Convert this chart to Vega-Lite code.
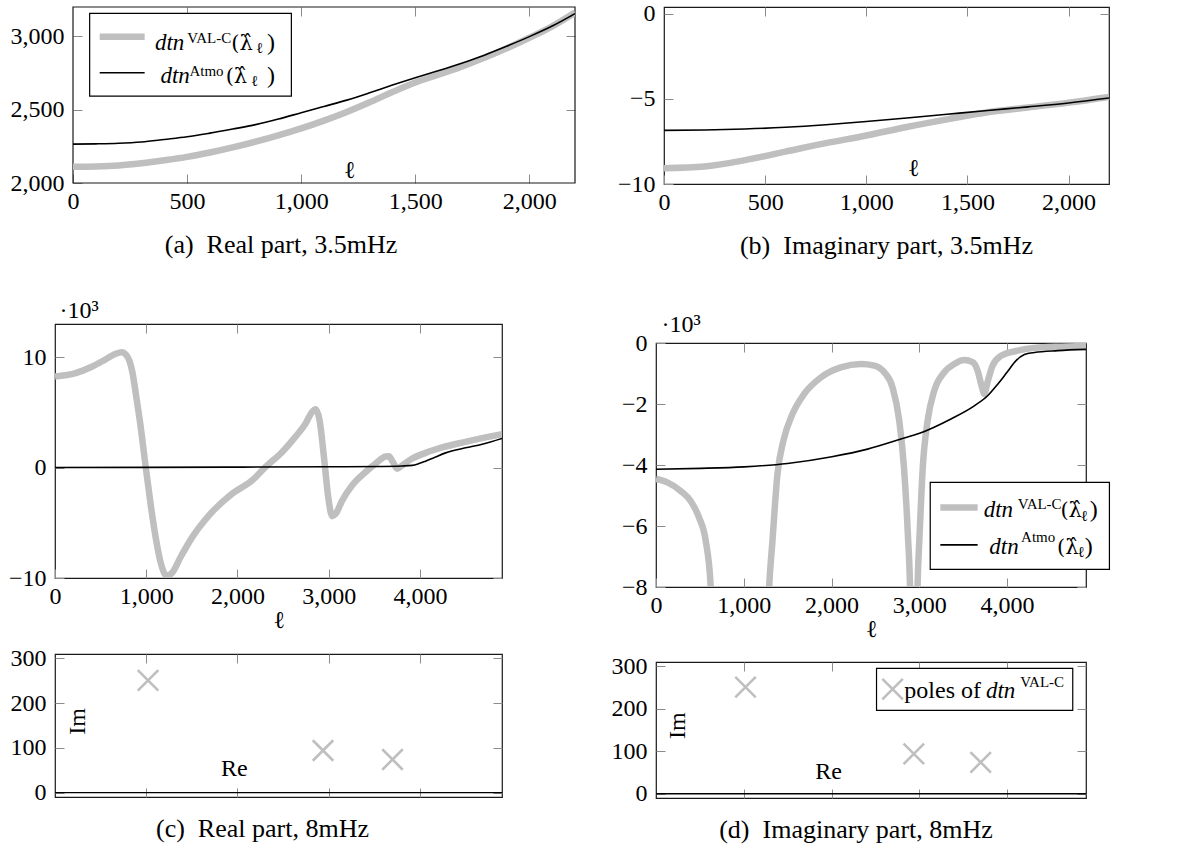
{
  "$schema": "https://vega.github.io/schema/vega-lite/v6.json",
  "background": "white",
  "padding": {"left": 7, "top": 1, "right": 0, "bottom": 0},
  "config": {
    "font": "Liberation Serif",
    "view": {"stroke": "#1a1a1a", "strokeWidth": 1.2},
    "axis": {"domain": false, "grid": false, "tickSize": -9, "tickColor": "#8c8c8c", "tickWidth": 1, "labelFont": "Liberation Serif", "labelFontSize": 24, "labelColor": "#000", "labelFlush": false, "labelOverlap": false, "titleFont": "Liberation Serif", "titleFontSize": 24, "titleFontWeight": "normal", "titleColor": "#000"},
    "axisX": {"labelPadding": 15},
    "axisY": {"labelPadding": 18},
    "title": {"font": "Liberation Serif", "fontSize": 26, "fontWeight": "normal", "color": "#000"},
    "text": {"font": "Liberation Serif", "color": "#000"}
  },
  "datasets": {
    "a": [
      {"l":0,"s":"VAL-C","v":2110},{"l":100,"s":"VAL-C","v":2113},{"l":200,"s":"VAL-C","v":2120},{"l":300,"s":"VAL-C","v":2135},{"l":400,"s":"VAL-C","v":2155},{"l":500,"s":"VAL-C","v":2178},{"l":600,"s":"VAL-C","v":2208},{"l":700,"s":"VAL-C","v":2243},{"l":800,"s":"VAL-C","v":2282},{"l":900,"s":"VAL-C","v":2325},{"l":1000,"s":"VAL-C","v":2372},{"l":1100,"s":"VAL-C","v":2425},{"l":1200,"s":"VAL-C","v":2484},{"l":1300,"s":"VAL-C","v":2550},{"l":1400,"s":"VAL-C","v":2620},{"l":1500,"s":"VAL-C","v":2685},{"l":1600,"s":"VAL-C","v":2738},{"l":1700,"s":"VAL-C","v":2792},{"l":1800,"s":"VAL-C","v":2852},{"l":1900,"s":"VAL-C","v":2918},{"l":2000,"s":"VAL-C","v":2990},{"l":2100,"s":"VAL-C","v":3068},{"l":2200,"s":"VAL-C","v":3162},
      {"l":0,"s":"Atmo","v":2265},{"l":100,"s":"Atmo","v":2267},{"l":200,"s":"Atmo","v":2271},{"l":300,"s":"Atmo","v":2280},{"l":400,"s":"Atmo","v":2297},{"l":500,"s":"Atmo","v":2315},{"l":600,"s":"Atmo","v":2340},{"l":700,"s":"Atmo","v":2368},{"l":800,"s":"Atmo","v":2398},{"l":900,"s":"Atmo","v":2436},{"l":1000,"s":"Atmo","v":2479},{"l":1100,"s":"Atmo","v":2522},{"l":1200,"s":"Atmo","v":2565},{"l":1300,"s":"Atmo","v":2615},{"l":1400,"s":"Atmo","v":2668},{"l":1500,"s":"Atmo","v":2718},{"l":1600,"s":"Atmo","v":2765},{"l":1700,"s":"Atmo","v":2815},{"l":1800,"s":"Atmo","v":2870},{"l":1900,"s":"Atmo","v":2932},{"l":2000,"s":"Atmo","v":2998},{"l":2100,"s":"Atmo","v":3070},{"l":2200,"s":"Atmo","v":3155}
    ],
    "b": [
      {"l":0,"s":"VAL-C","v":-9.07},{"l":200,"s":"VAL-C","v":-8.97},{"l":400,"s":"VAL-C","v":-8.6},{"l":600,"s":"VAL-C","v":-8.1},{"l":800,"s":"VAL-C","v":-7.6},{"l":1000,"s":"VAL-C","v":-7.15},{"l":1200,"s":"VAL-C","v":-6.65},{"l":1400,"s":"VAL-C","v":-6.2},{"l":1600,"s":"VAL-C","v":-5.78},{"l":1800,"s":"VAL-C","v":-5.5},{"l":2000,"s":"VAL-C","v":-5.22},{"l":2200,"s":"VAL-C","v":-4.88},
      {"l":0,"s":"Atmo","v":-6.85},{"l":200,"s":"Atmo","v":-6.83},{"l":400,"s":"Atmo","v":-6.77},{"l":600,"s":"Atmo","v":-6.67},{"l":800,"s":"Atmo","v":-6.52},{"l":1000,"s":"Atmo","v":-6.33},{"l":1200,"s":"Atmo","v":-6.12},{"l":1400,"s":"Atmo","v":-5.9},{"l":1600,"s":"Atmo","v":-5.68},{"l":1800,"s":"Atmo","v":-5.47},{"l":2000,"s":"Atmo","v":-5.24},{"l":2200,"s":"Atmo","v":-4.95}
    ],
    "c": [
      {"l":0,"s":"VAL-C","v":8.24},{"l":226,"s":"VAL-C","v":8.55},{"l":409,"s":"VAL-C","v":9.15},{"l":555,"s":"VAL-C","v":9.8},{"l":665,"s":"VAL-C","v":10.3},{"l":731,"s":"VAL-C","v":10.45},{"l":793,"s":"VAL-C","v":10.06},{"l":847,"s":"VAL-C","v":8.7},{"l":891,"s":"VAL-C","v":6.4},{"l":939,"s":"VAL-C","v":3.7},{"l":994,"s":"VAL-C","v":0.06},{"l":1048,"s":"VAL-C","v":-3.3},{"l":1103,"s":"VAL-C","v":-6.3},{"l":1158,"s":"VAL-C","v":-8.6},{"l":1224,"s":"VAL-C","v":-9.8},{"l":1286,"s":"VAL-C","v":-9.5},{"l":1377,"s":"VAL-C","v":-8.1},{"l":1505,"s":"VAL-C","v":-6.3},{"l":1688,"s":"VAL-C","v":-4.33},{"l":1943,"s":"VAL-C","v":-2.36},{"l":2163,"s":"VAL-C","v":-1.15},{"l":2309,"s":"VAL-C","v":0.06},{"l":2491,"s":"VAL-C","v":1.42},{"l":2637,"s":"VAL-C","v":2.8},{"l":2747,"s":"VAL-C","v":4.0},{"l":2820,"s":"VAL-C","v":5.06},{"l":2857,"s":"VAL-C","v":5.27},{"l":2900,"s":"VAL-C","v":4.3},{"l":2948,"s":"VAL-C","v":0.97},{"l":2995,"s":"VAL-C","v":-2.67},{"l":3039,"s":"VAL-C","v":-4.4},{"l":3076,"s":"VAL-C","v":-4.2},{"l":3149,"s":"VAL-C","v":-2.97},{"l":3258,"s":"VAL-C","v":-1.6},{"l":3405,"s":"VAL-C","v":-0.4},{"l":3514,"s":"VAL-C","v":0.36},{"l":3624,"s":"VAL-C","v":1.0},{"l":3660,"s":"VAL-C","v":1.03},{"l":3704,"s":"VAL-C","v":0.5},{"l":3752,"s":"VAL-C","v":-0.1},{"l":3806,"s":"VAL-C","v":0.2},{"l":3916,"s":"VAL-C","v":0.82},{"l":4062,"s":"VAL-C","v":1.33},{"l":4245,"s":"VAL-C","v":1.82},{"l":4500,"s":"VAL-C","v":2.33},{"l":4720,"s":"VAL-C","v":2.73},{"l":4900,"s":"VAL-C","v":3.03},
      {"l":0,"s":"Atmo","v":0.0},{"l":1000,"s":"Atmo","v":0.02},{"l":2000,"s":"Atmo","v":0.04},{"l":3000,"s":"Atmo","v":0.07},{"l":3600,"s":"Atmo","v":0.1},{"l":3800,"s":"Atmo","v":0.14},{"l":3916,"s":"Atmo","v":0.2},{"l":3989,"s":"Atmo","v":0.36},{"l":4062,"s":"Atmo","v":0.58},{"l":4135,"s":"Atmo","v":0.82},{"l":4281,"s":"Atmo","v":1.33},{"l":4500,"s":"Atmo","v":1.79},{"l":4683,"s":"Atmo","v":2.12},{"l":4900,"s":"Atmo","v":2.64}
    ],
    "d": [
      {"l":0,"s":"VAL-C","g":1,"v":-4.46},{"l":129,"s":"VAL-C","g":1,"v":-4.57},{"l":281,"s":"VAL-C","g":1,"v":-4.85},{"l":395,"s":"VAL-C","g":1,"v":-5.18},{"l":490,"s":"VAL-C","g":1,"v":-5.72},{"l":567,"s":"VAL-C","g":1,"v":-6.49},{"l":624,"s":"VAL-C","g":1,"v":-8.02},{"l":645,"s":"VAL-C","g":1,"v":-9.5},
      {"l":1268,"s":"VAL-C","g":2,"v":-9.5},{"l":1289,"s":"VAL-C","g":2,"v":-8.02},{"l":1327,"s":"VAL-C","g":2,"v":-6.49},{"l":1384,"s":"VAL-C","g":2,"v":-4.3},{"l":1452,"s":"VAL-C","g":2,"v":-3.2},{"l":1555,"s":"VAL-C","g":2,"v":-2.33},{"l":1688,"s":"VAL-C","g":2,"v":-1.67},{"l":1878,"s":"VAL-C","g":2,"v":-1.13},{"l":2106,"s":"VAL-C","g":2,"v":-0.8},{"l":2335,"s":"VAL-C","g":2,"v":-0.69},{"l":2487,"s":"VAL-C","g":2,"v":-0.74},{"l":2601,"s":"VAL-C","g":2,"v":-0.96},{"l":2696,"s":"VAL-C","g":2,"v":-1.46},{"l":2772,"s":"VAL-C","g":2,"v":-2.55},{"l":2826,"s":"VAL-C","g":2,"v":-4.08},{"l":2870,"s":"VAL-C","g":2,"v":-6.27},{"l":2895,"s":"VAL-C","g":2,"v":-8.02},{"l":2905,"s":"VAL-C","g":2,"v":-9.5},
      {"l":2970,"s":"VAL-C","g":3,"v":-9.5},{"l":2980,"s":"VAL-C","g":3,"v":-8.02},{"l":3004,"s":"VAL-C","g":3,"v":-6.27},{"l":3040,"s":"VAL-C","g":3,"v":-4.08},{"l":3095,"s":"VAL-C","g":3,"v":-2.55},{"l":3171,"s":"VAL-C","g":3,"v":-1.56},{"l":3285,"s":"VAL-C","g":3,"v":-0.96},{"l":3399,"s":"VAL-C","g":3,"v":-0.69},{"l":3513,"s":"VAL-C","g":3,"v":-0.56},{"l":3608,"s":"VAL-C","g":3,"v":-0.63},{"l":3665,"s":"VAL-C","g":3,"v":-0.91},{"l":3715,"s":"VAL-C","g":3,"v":-1.46},{"l":3741,"s":"VAL-C","g":3,"v":-1.67},{"l":3772,"s":"VAL-C","g":3,"v":-1.35},{"l":3836,"s":"VAL-C","g":3,"v":-0.74},{"l":3932,"s":"VAL-C","g":3,"v":-0.42},{"l":4122,"s":"VAL-C","g":3,"v":-0.25},{"l":4312,"s":"VAL-C","g":3,"v":-0.16},{"l":4616,"s":"VAL-C","g":3,"v":-0.12},{"l":4900,"s":"VAL-C","g":3,"v":-0.1},
      {"l":0,"s":"Atmo","g":0,"v":-4.14},{"l":510,"s":"Atmo","g":0,"v":-4.11},{"l":1004,"s":"Atmo","g":0,"v":-4.06},{"l":1498,"s":"Atmo","g":0,"v":-3.95},{"l":2004,"s":"Atmo","g":0,"v":-3.73},{"l":2411,"s":"Atmo","g":0,"v":-3.48},{"l":2791,"s":"Atmo","g":0,"v":-3.15},{"l":3004,"s":"Atmo","g":0,"v":-2.96},{"l":3361,"s":"Atmo","g":0,"v":-2.49},{"l":3627,"s":"Atmo","g":0,"v":-2.06},{"l":3779,"s":"Atmo","g":0,"v":-1.73},{"l":3894,"s":"Atmo","g":0,"v":-1.35},{"l":4000,"s":"Atmo","g":0,"v":-0.96},{"l":4103,"s":"Atmo","g":0,"v":-0.58},{"l":4198,"s":"Atmo","g":0,"v":-0.38},{"l":4312,"s":"Atmo","g":0,"v":-0.31},{"l":4578,"s":"Atmo","g":0,"v":-0.25},{"l":4900,"s":"Atmo","g":0,"v":-0.21}
    ],
    "poles": [{"re":1020,"im":251},{"re":2938,"im":94},{"re":3700,"im":74}]
  },
  "columns": 1,
  "spacing": 18,
  "concat": [
    {
      "spacing": 40,
      "hconcat": [
        {
          "width": 520, "height": 176,
          "view": {"stroke": null},
          "title": {"text": "(a)\u00a0 Real part, 3.5mHz", "orient": "bottom", "offset": 19, "dx": -34},
          "layer": [
            {"data": {"values": [{"x": 0, "x2": 2200, "y": 2000, "y2": 3200}]},
             "mark": {"type": "rect", "fill": "transparent", "stroke": "#1a1a1a", "strokeWidth": 1.2},
             "encoding": {"x": {"field": "x", "type": "quantitative", "axis": null}, "x2": {"field": "x2"}, "y": {"field": "y", "type": "quantitative", "axis": null}, "y2": {"field": "y2"}}},
            {"data": {"name": "a"}, "transform": [{"filter": "datum.s === 'VAL-C'"}],
             "mark": {"type": "line", "stroke": "#bfbfbf", "strokeWidth": 6.5, "interpolate": "monotone", "clip": true},
             "encoding": {
               "x": {"field": "l", "type": "quantitative", "scale": {"domain": [-78.9, 2200], "nice": false, "zero": false}, "axis": {"orient": "bottom", "values": [0,500,1000,1500,2000], "format": ",d", "title": "ℓ", "titleX": 294, "titleY": -6, "titleBaseline": "alphabetic", "titleAlign": "center"}},
               "y": {"field": "v", "type": "quantitative", "scale": {"domain": [2000, 3200], "nice": false, "zero": false}, "axis": {"orient": "left", "offset": -18, "values": [2000,2500,3000], "format": ",d", "title": null}}
             }},
            {"data": {"name": "a"}, "transform": [{"filter": "datum.s === 'Atmo'"}],
             "mark": {"type": "line", "stroke": "#000", "strokeWidth": 1.6, "interpolate": "monotone", "clip": true},
             "encoding": {
               "x": {"field": "l", "type": "quantitative", "axis": {"orient": "top", "values": [500,1000,1500,2000], "labels": false, "title": null}},
               "y": {"field": "v", "type": "quantitative", "axis": {"orient": "right", "values": [2500,3000], "labels": false, "title": null}}
             }},
            {"data": {"values": [{"x": 73, "x2": 957, "y": 3157, "y2": 2593}]},
             "mark": {"type": "rect", "fill": "#fff", "stroke": "#000", "strokeWidth": 1.2},
             "encoding": {"x": {"field": "x", "type": "quantitative", "axis": null}, "x2": {"field": "x2"}, "y": {"field": "y", "type": "quantitative", "axis": null}, "y2": {"field": "y2"}}},
            {"data": {"values": [{"x": 117, "x2": 314, "y": 2997}]},
             "mark": {"type": "rule", "stroke": "#bfbfbf", "strokeWidth": 6.5},
             "encoding": {"x": {"field": "x", "type": "quantitative", "axis": null}, "x2": {"field": "x2"}, "y": {"field": "y", "type": "quantitative", "axis": null}}},
            {"data": {"values": [{"x": 117, "x2": 314, "y": 2752}]},
             "mark": {"type": "rule", "stroke": "#000", "strokeWidth": 1.6},
             "encoding": {"x": {"field": "x", "type": "quantitative", "axis": null}, "x2": {"field": "x2"}, "y": {"field": "y", "type": "quantitative", "axis": null}}},
            {"data": {"values": [{"x": 359, "y": 2907, "t": "dtn"}, {"x": 383, "y": 2680, "t": "dtn"}]},
             "mark": {"type": "text", "align": "left", "baseline": "alphabetic", "fontSize": 23, "fontStyle": "italic"},
             "encoding": {"x": {"field": "x", "type": "quantitative", "axis": null}, "y": {"field": "y", "type": "quantitative", "axis": null}, "text": {"field": "t"}}},
            {"data": {"values": [{"x": 501, "y": 2957, "t": "VAL-C"}, {"x": 510, "y": 2730, "t": "Atmo"}]},
             "mark": {"type": "text", "align": "left", "baseline": "alphabetic", "fontSize": 15},
             "encoding": {"x": {"field": "x", "type": "quantitative", "axis": null}, "y": {"field": "y", "type": "quantitative", "axis": null}, "text": {"field": "t"}}},
            {"data": {"values": [{"x": 694, "y": 2907, "t": "(\u03bb\u0302"}, {"x": 669, "y": 2680, "t": "(\u03bb\u0302"}]},
             "mark": {"type": "text", "align": "left", "baseline": "alphabetic", "fontSize": 21, "font": "DejaVu Serif"},
             "encoding": {"x": {"field": "x", "type": "quantitative", "axis": null}, "y": {"field": "y", "type": "quantitative", "axis": null}, "text": {"field": "t"}}},
            {"data": {"values": [{"x": 803, "y": 2884, "t": "ℓ"}, {"x": 781, "y": 2661, "t": "ℓ"}]},
             "mark": {"type": "text", "align": "left", "baseline": "alphabetic", "fontSize": 15},
             "encoding": {"x": {"field": "x", "type": "quantitative", "axis": null}, "y": {"field": "y", "type": "quantitative", "axis": null}, "text": {"field": "t"}}},
            {"data": {"values": [{"x": 885, "y": 2907, "t": ")"}, {"x": 885, "y": 2680, "t": ")"}]},
             "mark": {"type": "text", "align": "right", "baseline": "alphabetic", "fontSize": 24},
             "encoding": {"x": {"field": "x", "type": "quantitative", "axis": null}, "y": {"field": "y", "type": "quantitative", "axis": null}, "text": {"field": "t"}}}
          ],
          "resolve": {"axis": {"x": "independent", "y": "independent"}}
        },
        {
          "width": 445, "height": 177,
          "title": {"text": "(b)\u00a0 Imaginary part, 3.5mHz", "orient": "bottom", "offset": 19},
          "layer": [
            {"data": {"name": "b"}, "transform": [{"filter": "datum.s === 'VAL-C'"}],
             "mark": {"type": "line", "stroke": "#bfbfbf", "strokeWidth": 6.5, "interpolate": "monotone", "clip": true},
             "encoding": {
               "x": {"field": "l", "type": "quantitative", "scale": {"domain": [0, 2200], "nice": false, "zero": false}, "axis": {"orient": "bottom", "values": [0,500,1000,1500,2000], "format": ",d", "title": "ℓ", "titleX": 249, "titleY": -9, "titleBaseline": "alphabetic", "titleAlign": "center"}},
               "y": {"field": "v", "type": "quantitative", "scale": {"domain": [-10, 0.4], "nice": false, "zero": false}, "axis": {"orient": "left", "values": [-10,-5,0], "title": null}}
             }},
            {"data": {"name": "b"}, "transform": [{"filter": "datum.s === 'Atmo'"}],
             "mark": {"type": "line", "stroke": "#000", "strokeWidth": 1.6, "interpolate": "monotone", "clip": true},
             "encoding": {
               "x": {"field": "l", "type": "quantitative", "axis": {"orient": "top", "values": [500,1000,1500,2000], "labels": false, "title": null}},
               "y": {"field": "v", "type": "quantitative", "axis": {"orient": "right", "values": [-5,0], "labels": false, "title": null}}
             }}
          ],
          "resolve": {"axis": {"x": "independent", "y": "independent"}}
        }
      ]
    },
    {
      "spacing": 106,
      "hconcat": [
        {
          "spacing": 12,
          "vconcat": [
            {
              "width": 10, "height": 1,
              "data": {"values": [{"k": 1}]},
              "mark": {"type": "point", "opacity": 0},
              "encoding": {},
              "view": {"stroke": null}
            },
            {
              "width": 447, "height": 254,
              "layer": [
                {"data": {"name": "c"}, "transform": [{"filter": "datum.s === 'VAL-C'"}],
                 "mark": {"type": "line", "stroke": "#bfbfbf", "strokeWidth": 6.5, "interpolate": "monotone", "clip": true},
                 "encoding": {
                   "x": {"field": "l", "type": "quantitative", "scale": {"domain": [0, 4900], "nice": false, "zero": false}, "axis": {"orient": "bottom", "values": [0,1000,2000,3000,4000], "format": ",d", "title": "ℓ", "titlePadding": 0}},
                   "y": {"field": "v", "type": "quantitative", "scale": {"domain": [-10, 13], "nice": false, "zero": false}, "axis": {"orient": "left", "values": [-10,0,10], "title": "·10³", "titleAngle": 0, "titleAlign": "left", "titleBaseline": "alphabetic", "titleX": 4, "titleY": -7}}
                 }},
                {"data": {"name": "c"}, "transform": [{"filter": "datum.s === 'Atmo'"}],
                 "mark": {"type": "line", "stroke": "#000", "strokeWidth": 1.6, "interpolate": "monotone", "clip": true},
                 "encoding": {
                   "x": {"field": "l", "type": "quantitative", "axis": {"orient": "top", "values": [1000,2000,3000,4000], "labels": false, "title": null}},
                   "y": {"field": "v", "type": "quantitative", "axis": {"orient": "right", "values": [-10,0,10], "labels": false, "title": null}}
                 }}
              ],
              "resolve": {"axis": {"x": "independent", "y": "independent"}}
            },
            {
              "width": 447, "height": 143,
              "title": {"text": "(c)\u00a0 Real part, 8mHz", "orient": "bottom", "offset": 11, "dx": -16},
              "layer": [
                {"data": {"values": [{"im": 0}]},
                 "mark": {"type": "rule", "stroke": "#000", "strokeWidth": 1.3},
                 "encoding": {"y": {"field": "im", "type": "quantitative", "scale": {"domain": [-10, 310], "nice": false, "zero": false}, "axis": {"orient": "right", "values": [0,100,200,300], "labels": false, "title": null}}}},
                {"data": {"name": "poles"},
                 "mark": {"type": "point", "shape": "M-1,-1L1,1M-1,1L1,-1", "size": 420, "filled": false, "stroke": "#bfbfbf", "strokeWidth": 2.6, "opacity": 1},
                 "encoding": {
                   "x": {"field": "re", "type": "quantitative", "scale": {"domain": [0, 4900], "nice": false, "zero": false}, "axis": {"orient": "bottom", "values": [1000,2000,3000,4000], "labels": false, "title": null}},
                   "y": {"field": "im", "type": "quantitative", "axis": {"orient": "left", "values": [0,100,200,300], "title": null}}
                 }},
                {"data": {"values": [{"x": 1967, "y": 36, "t": "Re"}]},
                 "mark": {"type": "text", "align": "center", "baseline": "alphabetic", "fontSize": 24},
                 "encoding": {"x": {"field": "x", "type": "quantitative", "axis": {"orient": "top", "values": [1000,2000,3000,4000], "labels": false, "title": null}}, "y": {"field": "y", "type": "quantitative", "axis": null}, "text": {"field": "t"}}},
                {"data": {"values": [{"x": 255, "y": 159, "t": "Im"}]},
                 "mark": {"type": "text", "align": "center", "baseline": "middle", "fontSize": 24, "angle": 270},
                 "encoding": {"x": {"field": "x", "type": "quantitative", "axis": null}, "y": {"field": "y", "type": "quantitative", "axis": null}, "text": {"field": "t"}}}
              ],
              "resolve": {"axis": {"x": "independent", "y": "independent"}}
            }
          ]
        },
        {
          "spacing": 11,
          "vconcat": [
            {
              "width": 10, "height": 19,
              "data": {"values": [{"k": 1}]},
              "mark": {"type": "point", "opacity": 0},
              "encoding": {},
              "view": {"stroke": null}
            },
            {
              "width": 430, "height": 244,
              "layer": [
                {"data": {"name": "d"}, "transform": [{"filter": "datum.s === 'VAL-C'"}],
                 "mark": {"type": "line", "stroke": "#bfbfbf", "strokeWidth": 6.5, "interpolate": "monotone", "clip": true},
                 "encoding": {
                   "x": {"field": "l", "type": "quantitative", "scale": {"domain": [0, 4900], "nice": false, "zero": false}, "axis": {"orient": "bottom", "values": [0,1000,2000,3000,4000], "format": ",d", "title": "ℓ", "titlePadding": 0}},
                   "y": {"field": "v", "type": "quantitative", "scale": {"domain": [-8, 0], "nice": false, "zero": false}, "axis": {"orient": "left", "values": [-8,-6,-4,-2,0], "title": "·10³", "titleAngle": 0, "titleAlign": "left", "titleBaseline": "alphabetic", "titleX": 5, "titleY": -12}},
                   "detail": {"field": "g"}
                 }},
                {"data": {"name": "d"}, "transform": [{"filter": "datum.s === 'Atmo'"}],
                 "mark": {"type": "line", "stroke": "#000", "strokeWidth": 1.6, "interpolate": "monotone", "clip": true},
                 "encoding": {
                   "x": {"field": "l", "type": "quantitative", "axis": {"orient": "top", "values": [1000,2000,3000,4000], "labels": false, "title": null}},
                   "y": {"field": "v", "type": "quantitative", "axis": {"orient": "right", "values": [-8,-6,-4,-2,0], "labels": false, "title": null}}
                 }},
                {"data": {"values": [{"x": 3125, "x2": 5167, "y": -4.57, "y2": -7.42}]},
                 "mark": {"type": "rect", "fill": "#fff", "stroke": "#000", "strokeWidth": 1.2},
                 "encoding": {"x": {"field": "x", "type": "quantitative", "axis": null}, "x2": {"field": "x2"}, "y": {"field": "y", "type": "quantitative", "axis": null}, "y2": {"field": "y2"}}},
                {"data": {"values": [{"x": 3240, "x2": 3665, "y": -5.39}]},
                 "mark": {"type": "rule", "stroke": "#bfbfbf", "strokeWidth": 6.5},
                 "encoding": {"x": {"field": "x", "type": "quantitative", "axis": null}, "x2": {"field": "x2"}, "y": {"field": "y", "type": "quantitative", "axis": null}}},
                {"data": {"values": [{"x": 3240, "x2": 3665, "y": -6.62}]},
                 "mark": {"type": "rule", "stroke": "#000", "strokeWidth": 1.6},
                 "encoding": {"x": {"field": "x", "type": "quantitative", "axis": null}, "x2": {"field": "x2"}, "y": {"field": "y", "type": "quantitative", "axis": null}}},
                {"data": {"values": [{"x": 3734, "y": -5.72, "t": "dtn"}, {"x": 3798, "y": -6.93, "t": "dtn"}]},
                 "mark": {"type": "text", "align": "left", "baseline": "alphabetic", "fontSize": 23, "fontStyle": "italic"},
                 "encoding": {"x": {"field": "x", "type": "quantitative", "axis": null}, "y": {"field": "y", "type": "quantitative", "axis": null}, "text": {"field": "t"}}},
                {"data": {"values": [{"x": 4122, "y": -5.45, "t": "VAL-C"}, {"x": 4160, "y": -6.51, "t": "Atmo"}]},
                 "mark": {"type": "text", "align": "left", "baseline": "alphabetic", "fontSize": 15},
                 "encoding": {"x": {"field": "x", "type": "quantitative", "axis": null}, "y": {"field": "y", "type": "quantitative", "axis": null}, "text": {"field": "t"}}},
                {"data": {"values": [{"x": 4608, "y": -5.72, "t": "(\u03bb\u0302"}, {"x": 4570, "y": -6.93, "t": "(\u03bb\u0302"}]},
                 "mark": {"type": "text", "align": "left", "baseline": "alphabetic", "fontSize": 21, "font": "DejaVu Serif"},
                 "encoding": {"x": {"field": "x", "type": "quantitative", "axis": null}, "y": {"field": "y", "type": "quantitative", "axis": null}, "text": {"field": "t"}}},
                {"data": {"values": [{"x": 4844, "y": -5.83, "t": "ℓ"}, {"x": 4806, "y": -7.03, "t": "ℓ"}]},
                 "mark": {"type": "text", "align": "left", "baseline": "alphabetic", "fontSize": 15},
                 "encoding": {"x": {"field": "x", "type": "quantitative", "axis": null}, "y": {"field": "y", "type": "quantitative", "axis": null}, "text": {"field": "t"}}},
                {"data": {"values": [{"x": 5034, "y": -5.72, "t": ")"}, {"x": 4977, "y": -6.93, "t": ")"}]},
                 "mark": {"type": "text", "align": "right", "baseline": "alphabetic", "fontSize": 24},
                 "encoding": {"x": {"field": "x", "type": "quantitative", "axis": null}, "y": {"field": "y", "type": "quantitative", "axis": null}, "text": {"field": "t"}}}
              ],
              "resolve": {"axis": {"x": "independent", "y": "independent"}}
            },
            {
              "width": 430, "height": 136,
              "title": {"text": "(d)\u00a0 Imaginary part, 8mHz", "orient": "bottom", "offset": 11, "dx": -15},
              "layer": [
                {"data": {"values": [{"im": 0}]},
                 "mark": {"type": "rule", "stroke": "#000", "strokeWidth": 1.3},
                 "encoding": {"y": {"field": "im", "type": "quantitative", "scale": {"domain": [-10, 310], "nice": false, "zero": false}, "axis": {"orient": "right", "values": [0,100,200,300], "labels": false, "title": null}}}},
                {"data": {"name": "poles"},
                 "mark": {"type": "point", "shape": "M-1,-1L1,1M-1,1L1,-1", "size": 420, "filled": false, "stroke": "#bfbfbf", "strokeWidth": 2.6, "opacity": 1},
                 "encoding": {
                   "x": {"field": "re", "type": "quantitative", "scale": {"domain": [0, 4900], "nice": false, "zero": false}, "axis": {"orient": "bottom", "values": [1000,2000,3000,4000], "labels": false, "title": null}},
                   "y": {"field": "im", "type": "quantitative", "axis": {"orient": "left", "values": [0,100,200,300], "title": null}}
                 }},
                {"data": {"values": [{"x": 1966, "y": 34, "t": "Re"}]},
                 "mark": {"type": "text", "align": "center", "baseline": "alphabetic", "fontSize": 24},
                 "encoding": {"x": {"field": "x", "type": "quantitative", "axis": {"orient": "top", "values": [1000,2000,3000,4000], "labels": false, "title": null}}, "y": {"field": "y", "type": "quantitative", "axis": null}, "text": {"field": "t"}}},
                {"data": {"values": [{"x": 251, "y": 160, "t": "Im"}]},
                 "mark": {"type": "text", "align": "center", "baseline": "middle", "fontSize": 24, "angle": 270},
                 "encoding": {"x": {"field": "x", "type": "quantitative", "axis": null}, "y": {"field": "y", "type": "quantitative", "axis": null}, "text": {"field": "t"}}},
                {"data": {"values": [{"x": 2513, "x2": 4749, "y": 295, "y2": 196}]},
                 "mark": {"type": "rect", "fill": "#fff", "stroke": "#000", "strokeWidth": 1.2},
                 "encoding": {"x": {"field": "x", "type": "quantitative", "axis": null}, "x2": {"field": "x2"}, "y": {"field": "y", "type": "quantitative", "axis": null}, "y2": {"field": "y2"}}},
                {"data": {"values": [{"x": 2696, "y": 246}]},
                 "mark": {"type": "point", "shape": "M-1,-1L1,1M-1,1L1,-1", "size": 420, "filled": false, "stroke": "#bfbfbf", "strokeWidth": 2.6, "opacity": 1},
                 "encoding": {"x": {"field": "x", "type": "quantitative", "axis": null}, "y": {"field": "y", "type": "quantitative", "axis": null}}},
                {"data": {"values": [{"x": 2830, "y": 225, "t": "poles of"}]},
                 "mark": {"type": "text", "align": "left", "baseline": "alphabetic", "fontSize": 24},
                 "encoding": {"x": {"field": "x", "type": "quantitative", "axis": null}, "y": {"field": "y", "type": "quantitative", "axis": null}, "text": {"field": "t"}}},
                {"data": {"values": [{"x": 3760, "y": 225, "t": "dtn"}]},
                 "mark": {"type": "text", "align": "left", "baseline": "alphabetic", "fontSize": 23, "fontStyle": "italic"},
                 "encoding": {"x": {"field": "x", "type": "quantitative", "axis": null}, "y": {"field": "y", "type": "quantitative", "axis": null}, "text": {"field": "t"}}},
                {"data": {"values": [{"x": 4150, "y": 252, "t": "VAL-C"}]},
                 "mark": {"type": "text", "align": "left", "baseline": "alphabetic", "fontSize": 15},
                 "encoding": {"x": {"field": "x", "type": "quantitative", "axis": null}, "y": {"field": "y", "type": "quantitative", "axis": null}, "text": {"field": "t"}}}
              ],
              "resolve": {"axis": {"x": "independent", "y": "independent"}}
            }
          ]
        }
      ]
    }
  ]
}
